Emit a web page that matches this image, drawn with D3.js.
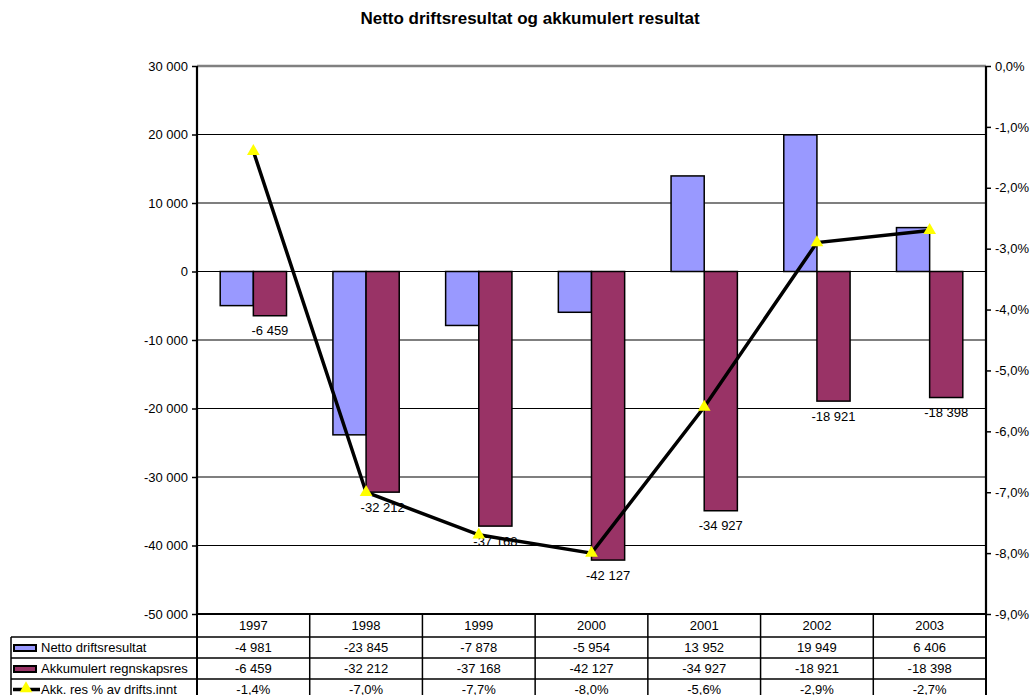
<!DOCTYPE html>
<html>
<head>
<meta charset="utf-8">
<script src="https://cdn.jsdelivr.net/npm/d3@7"></script>
<style>
  body { margin: 0; background: #fff; }
  svg { font-family: "Liberation Sans", Arial, sans-serif; }
</style>
</head>
<body>
<div class="container"></div>
<script>
// data
const years = ["1997", "1998", "1999", "2000", "2001", "2002", "2003"];
const netto = [-4981, -23845, -7878, -5954, 13952, 19949, 6406];
const akkumulert = [-6459, -32212, -37168, -42127, -34927, -18921, -18398];
const akkPct = [-0.014, -0.070, -0.077, -0.080, -0.056, -0.029, -0.027];
const seriesNames = ["Netto driftsresultat", "Akkumulert regnskapsres", "Akk. res % av drifts.innt"];
const leftTicks = [30000, 20000, 10000, 0, -10000, -20000, -30000, -40000, -50000];
const rightTicks = [0, -0.01, -0.02, -0.03, -0.04, -0.05, -0.06, -0.07, -0.08, -0.09];

const WIDTH = 1031, HEIGHT = 695;
const PLOT = { left: 197, right: 986, top: 66, bottom: 614 };
const HEADER_H = 23, ROW_H = 21;
const FONT = 13;
const COLORS = { netto: "#9999FF", akk: "#993366", marker: "#FFFF00" };

const locale = d3.formatLocale({
  decimal: ",", thousands: " ", grouping: [3], currency: ["", ""], minus: "-"
});
const fmtNum = locale.format(",d");
const fmtPct = locale.format(".1%");

const x = d3.scaleBand().domain(years).range([PLOT.left, PLOT.right]);
const xSub = d3.scaleBand().domain(["netto", "akk"]).range([0, x.bandwidth()]).paddingOuter(0.7);
const y = d3.scaleLinear().domain([-50000, 30000]).range([PLOT.bottom, PLOT.top]);
const y2 = d3.scaleLinear().domain([-0.09, 0]).range([PLOT.bottom, PLOT.top]);
const cx = (yr) => x(yr) + x.bandwidth() / 2;

const svg = d3.select(".container")
  .append("svg")
  .attr("viewBox", [0, 0, WIDTH, HEIGHT])
  .attr("width", WIDTH)
  .attr("height", HEIGHT);

// title
svg.append("text")
  .attr("x", 530)
  .attr("y", 24)
  .attr("text-anchor", "middle")
  .attr("font-size", 17)
  .attr("font-weight", "bold")
  .text("Netto driftsresultat og akkumulert resultat");

// gridlines
svg.append("g")
  .selectAll("line")
  .data(leftTicks)
  .join("line")
  .attr("x1", PLOT.left)
  .attr("x2", PLOT.right)
  .attr("y1", (d) => y(d))
  .attr("y2", (d) => y(d))
  .attr("stroke", (d) => (d === 30000 ? "#808080" : "#000"))
  .attr("stroke-width", (d) => (d === 30000 ? 2.5 : 1.2));

// bars
const barData = years.flatMap((yr, i) => [
  { yr, key: "netto", value: netto[i] },
  { yr, key: "akk", value: akkumulert[i] }
]);
svg.append("g")
  .attr("stroke", "#000")
  .attr("stroke-width", 1.5)
  .selectAll("rect")
  .data(barData)
  .join("rect")
  .attr("x", (d) => x(d.yr) + xSub(d.key))
  .attr("width", xSub.bandwidth())
  .attr("y", (d) => y(Math.max(0, d.value)))
  .attr("height", (d) => Math.abs(y(d.value) - y(0)))
  .attr("fill", (d) => (d.key === "netto" ? COLORS.netto : COLORS.akk));

// labels on akkumulert bars
svg.append("g")
  .attr("font-size", FONT)
  .attr("text-anchor", "middle")
  .selectAll("text")
  .data(years.map((yr, i) => ({ yr, value: akkumulert[i] })))
  .join("text")
  .attr("x", (d) => x(d.yr) + xSub("akk") + xSub.bandwidth() / 2)
  .attr("y", (d) => y(d.value) + 15)
  .attr("dominant-baseline", "central")
  .text((d) => fmtNum(d.value));

// line + markers
const pctData = years.map((yr, i) => ({ yr, value: akkPct[i] }));
svg.append("path")
  .datum(pctData)
  .attr("fill", "none")
  .attr("stroke", "#000")
  .attr("stroke-width", 3.5)
  .attr("d", d3.line().x((d) => cx(d.yr)).y((d) => y2(d.value)));
const triangle = d3.symbol(d3.symbolTriangle).size(70);
svg.append("g")
  .selectAll("path")
  .data(pctData)
  .join("path")
  .attr("transform", (d) => `translate(${cx(d.yr)},${y2(d.value)})`)
  .attr("d", triangle)
  .attr("fill", COLORS.marker);

// axes
svg.append("g")
  .attr("transform", `translate(${PLOT.left},0)`)
  .call(d3.axisLeft(y).tickValues(leftTicks).tickSize(5).tickPadding(4).tickFormat(fmtNum))
  .call((g) => g.select(".domain").attr("stroke-width", 2.2).attr("d", `M0,${PLOT.top}V${PLOT.bottom}`))
  .call((g) => g.selectAll(".tick line").attr("stroke-width", 1.5))
  .call((g) => g.selectAll("text").attr("font-size", FONT).attr("font-family", null).attr("fill", "#000"));

svg.append("g")
  .attr("transform", `translate(${PLOT.right},0)`)
  .call(d3.axisRight(y2).tickValues(rightTicks).tickSize(5).tickPadding(4).tickFormat(fmtPct))
  .call((g) => g.select(".domain").attr("stroke-width", 2.2).attr("d", `M0,${PLOT.top}V${PLOT.bottom}`))
  .call((g) => g.selectAll(".tick line").attr("stroke-width", 1.5))
  .call((g) => g.selectAll("text").attr("font-size", FONT).attr("font-family", null).attr("fill", "#000"));

// data table
const table = svg.append("g");
const rowTop = (r) => (r === 0 ? PLOT.bottom : PLOT.bottom + HEADER_H + (r - 1) * ROW_H);
const rowMid = (r) => (r === 0 ? PLOT.bottom + HEADER_H / 2 : rowTop(r) + ROW_H / 2);
const tableBottom = HEIGHT + 10;
const LEGEND_LEFT = 11;

// horizontal lines
table.append("line")
  .attr("x1", PLOT.left).attr("x2", PLOT.right)
  .attr("y1", PLOT.bottom).attr("y2", PLOT.bottom)
  .attr("stroke", "#000").attr("stroke-width", 2.2);
table.selectAll(".hline")
  .data([1, 2, 3])
  .join("line")
  .attr("class", "hline")
  .attr("x1", LEGEND_LEFT).attr("x2", PLOT.right)
  .attr("y1", (r) => rowTop(r)).attr("y2", (r) => rowTop(r))
  .attr("stroke", "#000").attr("stroke-width", 1.5);
// vertical lines
table.selectAll(".vline")
  .data(years.slice(1))
  .join("line")
  .attr("class", "vline")
  .attr("x1", (d) => x(d)).attr("x2", (d) => x(d))
  .attr("y1", PLOT.bottom).attr("y2", tableBottom)
  .attr("stroke", "#000").attr("stroke-width", 1.5);
table.append("line")
  .attr("x1", PLOT.left).attr("x2", PLOT.left)
  .attr("y1", PLOT.bottom).attr("y2", tableBottom)
  .attr("stroke", "#000").attr("stroke-width", 2);
table.append("line")
  .attr("x1", PLOT.right).attr("x2", PLOT.right)
  .attr("y1", PLOT.bottom).attr("y2", tableBottom)
  .attr("stroke", "#000").attr("stroke-width", 2);
table.append("line")
  .attr("x1", LEGEND_LEFT).attr("x2", LEGEND_LEFT)
  .attr("y1", rowTop(1)).attr("y2", tableBottom)
  .attr("stroke", "#000").attr("stroke-width", 1.5);

// cell texts
const rows = [
  years,
  netto.map(fmtNum),
  akkumulert.map(fmtNum),
  akkPct.map(fmtPct)
];
rows.forEach((cells, r) => {
  table.append("g")
    .attr("font-size", FONT)
    .attr("text-anchor", "middle")
    .selectAll("text")
    .data(cells)
    .join("text")
    .attr("x", (d, i) => cx(years[i]))
    .attr("y", rowMid(r))
    .attr("dominant-baseline", "central")
    .text((d) => d);
});

// legend keys in the first column
const legendRows = seriesNames.map((name, i) => ({ name, r: i + 1 }));
table.append("g")
  .attr("font-size", FONT)
  .selectAll("text")
  .data(legendRows)
  .join("text")
  .attr("x", 41)
  .attr("y", (d) => rowMid(d.r))
  .attr("dominant-baseline", "central")
  .text((d) => d.name);

[COLORS.netto, COLORS.akk].forEach((c, i) => {
  table.append("rect")
    .attr("x", 14).attr("y", rowTop(i + 1) + 8)
    .attr("width", 22).attr("height", 6)
    .attr("fill", c).attr("stroke", "#000").attr("stroke-width", 2);
});
const keyY = rowMid(3);
table.append("line")
  .attr("x1", 13).attr("x2", 40)
  .attr("y1", keyY).attr("y2", keyY)
  .attr("stroke", "#000").attr("stroke-width", 3.5);
table.append("path")
  .attr("transform", `translate(26,${keyY - 1})`)
  .attr("d", triangle)
  .attr("fill", COLORS.marker);
</script>
</body>
</html>
